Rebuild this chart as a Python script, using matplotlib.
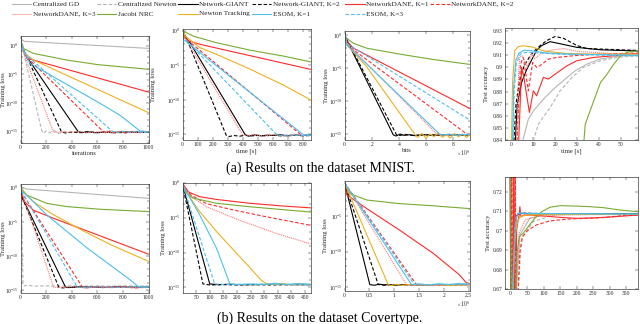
import numpy as np
import matplotlib
matplotlib.use('Agg')
import matplotlib.pyplot as plt
from matplotlib.ticker import FixedLocator, LogFormatterMathtext, NullFormatter, FuncFormatter
from matplotlib.lines import Line2D

plt.rcParams['font.family'] = ['Liberation Serif', 'DejaVu Serif']
plt.rcParams['mathtext.fontset'] = 'cm'

# ---------------- series (legend order) ----------------
SERIES = ['Centralized GD', 'Centralized Newton', 'Network-GIANT', 'Network-GIANT, K=2',
          'NetworkDANE, K=1', 'NetworkDANE, K=2', 'NetworkDANE, K=3', 'Jacobi NRC',
          'Newton Tracking', 'ESOM, K=1', 'ESOM, K=3']
COLORS = ['#b5b5b5', '#b5b5b5', '#000000', '#000000', '#ff2a2a', '#ff2a2a', '#ff7a7a',
          '#77ac30', '#edb120', '#4dbeee', '#4dbeee']
DASHED = (0, (3.2, 1.8))
DOTTED = (0, (1.0, 0.8))
STYLES = ['-', DASHED, '-', DASHED, '-', DASHED, DOTTED, '-', '-', '-', DASHED]

# ---------------- (a) MNIST: training loss vs iterations (log10 of loss) ----------------
MN_IT_X = [
    [0, 10, 30, 1000],
    [0, 10, 165, 180, 200, 230, 260, 300, 350, 400, 450, 500, 560, 620, 680, 740, 800, 860, 920, 1000],
    [0, 10, 47, 450, 480, 520, 580, 650, 720, 800, 900, 1000],
    [0, 10, 40, 320, 350, 400, 460, 520, 600, 700, 800, 900, 1000],
    [0, 15, 50, 1000],
    [0, 10, 40, 646, 670, 700, 740, 780, 830, 880, 930, 1000],
    [0, 16, 255, 280, 320, 380, 450, 520, 600, 700, 800, 900, 1000],
    [0, 5, 21, 99, 359, 600, 1000],
    [0, 10, 30, 100, 1000],
    [0, 10, 73, 620, 780, 900, 940, 960, 980, 1000],
    [0, 10, 30, 720, 750, 800, 850, 900, 950, 1000],
]
MN_IT_LOG = [
    [1.57, 1.0, 0.75, -0.47],
    [1.57, 0.3, -14.8, -15.3, -14.9, -15.2, -14.8, -15.3, -15.0, -15.2, -14.9, -15.3, -15.0, -15.2, -14.9, -15.3, -15.0, -15.2, -14.9, -15.1],
    [1.57, 0.0, -1.9, -15.0, -15.2, -15.05, -15.2, -15.1, -15.2, -15.05, -15.15, -15.1],
    [1.57, 0.0, -1.5, -15.05, -15.25, -15.1, -15.2, -15.05, -15.2, -15.1, -15.2, -15.1, -15.15],
    [1.57, -0.5, -2.2, -8.1],
    [1.57, 0.2, -1.8, -15.0, -15.3, -14.9, -15.25, -15.0, -15.3, -14.95, -15.2, -15.05],
    [1.57, -0.75, -15.0, -15.2, -15.05, -15.15, -15.0, -15.2, -15.1, -15.15, -15.05, -15.2, -15.1],
    [1.57, 0.5, -0.47, -1.34, -2.5, -3.3, -4.13],
    [1.57, 0.2, -1.2, -2.5, -11.7],
    [1.57, 0.0, -3.08, -10.05, -12.2, -14.3, -15.0, -14.9, -15.1, -15.0],
    [1.57, 0.0, -1.3, -15.0, -15.15, -14.95, -15.1, -15.0, -15.15, -15.05],
]

# ---------------- (a) MNIST: training loss vs time [s] ----------------
MN_TM_X = [
    [], [],
    [0, 15, 51, 418, 440, 480, 520, 560, 600, 650, 700, 750, 800, 850],
    [0, 30, 290, 310, 340, 380, 420, 460, 500, 550, 600, 650, 700, 750, 800, 850],
    [0, 15, 40, 118, 850],
    [0, 18, 784, 800, 820, 850],
    [0, 15, 400, 430, 480, 540, 600, 660, 720, 780, 850],
    [0, 7, 73, 229, 451, 673, 850],
    [0, 18, 118, 229, 451, 673, 850],
    [0, 7, 806, 830, 850],
    [0, 7, 629, 660, 700, 740, 780, 820, 850],
]
MN_TM_LOG = [
    [], [],
    [0.1, -0.8, -1.8, -15.1, -15.25, -15.05, -15.2, -15.1, -15.15, -15.05, -15.2, -15.1, -15.15, -15.1],
    [0.1, -1.3, -15.1, -15.3, -15.15, -15.25, -15.1, -15.2, -15.15, -15.2, -15.1, -15.2, -15.15, -15.1, -15.2, -15.15],
    [0.1, -1.0, -1.5, -2.0, -5.6],
    [0.1, -1.1, -15.0, -15.2, -15.05, -15.15],
    [0.1, -1.0, -15.1, -15.2, -15.0, -15.25, -15.05, -15.2, -15.1, -15.15, -15.1],
    [0.1, -0.1, -0.82, -1.78, -2.84, -3.7, -4.52],
    [0.1, -0.8, -2.5, -3.46, -5.6, -7.9, -10.0],
    [0.1, -1.3, -15.1, -15.0, -15.15],
    [0.1, -1.0, -15.1, -15.2, -15.05, -15.15, -15.1, -15.2, -15.1],
]

# ---------------- (a) MNIST: training loss vs bits (x 1e8) ----------------
MN_BT_X = [
    [], [],
    [0, 0.1, 3.59, 3.8, 4.1, 4.4, 4.8, 5.2, 5.8, 6.5, 7.5, 8.5, 9.25],
    [0, 0.1, 3.83, 4.1, 4.5, 5.0, 6, 7, 8, 9.25],
    [0, 0.2, 0.66, 9.25],
    [0, 0.17, 8.95, 9.1, 9.25],
    [0, 0.17, 6.8, 7.1, 7.5, 8, 8.5, 9.25],
    [0, 0.03, 0.66, 1.63, 4.07, 6.5, 9.25],
    [0, 0.17, 1.63, 5.17, 5.4, 5.7, 6.0, 6.3, 6.6, 6.9, 7.2, 7.5, 7.8, 8.1, 8.4, 8.7, 9.0, 9.25],
    [0, 0.17, 7.0, 7.3, 7.7, 8.2, 8.7, 9.25],
    [0, 0.17, 9.25],
]
MN_BT_LOG = [
    [], [],
    [0.25, -0.5, -15.1, -15.3, -15.0, -15.2, -15.1, -15.25, -15.1, -15.2, -15.1, -15.15, -15.1],
    [0.25, -0.4, -15.1, -15.2, -15.05, -15.2, -15.1, -15.15, -15.1, -15.15],
    [0.25, -1.0, -2.0, -11.15],
    [0.25, -1.5, -14.9, -15.1, -15.0],
    [0.25, -1.3, -15.0, -15.2, -15.05, -15.2, -15.1, -15.15],
    [0.25, -0.3, -1.26, -2.0, -2.9, -3.7, -4.46],
    [0.25, -1.5, -4.8, -15.0, -15.5, -14.9, -15.6, -15.0, -15.4, -14.8, -15.5, -15.1, -15.6, -14.9, -15.4, -15.0, -15.5, -15.1],
    [0.25, -1.5, -15.0, -15.15, -15.0, -15.2, -15.05, -15.1],
    [0.25, -1.3, -12.9],
]

# ---------------- (a) MNIST: test accuracy vs time [s] ----------------
MN_AC_X = [
    [3.8, 7.7, 10, 15.4, 19.2, 24.6, 29.2, 34.6, 40.8, 48.5, 58],
    [9.2, 12.3, 17.7, 22.3, 27.7, 33, 40.8, 48.5, 58],
    [1.5, 2.6, 4.6, 6.9, 9.2, 11.5, 13.8, 17.7, 22.3, 30, 40.8, 58],
    [0.8, 2, 3.5, 5.7, 8.5, 11.5, 16, 20, 23.8, 30, 34.6, 58],
    [3.1, 4.6, 5.4, 8.2, 10, 11.5, 14.6, 16.9, 20, 25.4, 30, 37.7, 47, 58],
    [2.3, 4.1, 5.4, 7.7, 9.7, 11.5, 13, 16.9, 20.8, 28.5, 40.8, 58],
    [2.3, 3.2, 3.8, 5, 7.2, 9.2, 10.8, 13.8, 19, 24, 31, 45, 58],
    [32.8, 33.8, 37.7, 40.8, 43.8, 46.9, 50, 53, 58],
    [-0.5, 0.5, 1.5, 3, 5, 9, 15, 25, 35, 58],
    [0, 1, 2, 3.5, 6, 10, 15, 25, 40, 58],
    [0.2, 1.2, 2.2, 4, 7, 12, 20, 30, 58],
]
MN_AC_Y = [
    [0.83, 0.8571, 0.864, 0.8751, 0.882, 0.8903, 0.8972, 0.9027, 0.9069, 0.9091, 0.9102],
    [0.835, 0.853, 0.8668, 0.8806, 0.8917, 0.9, 0.9055, 0.9082, 0.9096],
    [0.83, 0.869, 0.8875, 0.898, 0.906, 0.914, 0.918, 0.9212, 0.9195, 0.9165, 0.9145, 0.9135],
    [0.83, 0.869, 0.8875, 0.901, 0.9095, 0.9155, 0.922, 0.9255, 0.924, 0.918, 0.9155, 0.914],
    [0.83, 0.8999, 0.8944, 0.8627, 0.8806, 0.8765, 0.8917, 0.8903, 0.8944, 0.9013, 0.9055, 0.9082, 0.9096, 0.9115],
    [0.83, 0.9027, 0.9082, 0.8806, 0.9041, 0.9, 0.9013, 0.9068, 0.9082, 0.9096, 0.911, 0.9118],
    [0.83, 0.895, 0.909, 0.9095, 0.9, 0.911, 0.907, 0.912, 0.9145, 0.9155, 0.913, 0.9115, 0.911],
    [0.83, 0.853, 0.8723, 0.8875, 0.8944, 0.9027, 0.9096, 0.9124, 0.9138],
    [0.80, 0.889, 0.914, 0.917, 0.9178, 0.917, 0.9135, 0.9115, 0.911, 0.9108],
    [0.80, 0.885, 0.906, 0.912, 0.9142, 0.9135, 0.912, 0.911, 0.9105, 0.91],
    [0.80, 0.88, 0.903, 0.911, 0.9125, 0.912, 0.911, 0.9105, 0.9095],
]

# ---------------- (b) Covertype: training loss vs iterations ----------------
CT_IT_X = [
    [0, 10, 48, 1000],
    [0, 10, 20, 30, 60, 100, 200, 300, 400, 500, 600, 700, 800, 900, 1000],
    [0, 15, 352, 380, 450, 550, 650, 750, 850, 1000],
    [0, 15, 299, 330, 400, 500, 600, 700, 800, 900, 1000],
    [0, 10, 30, 100, 260, 1000],
    [0, 10, 484, 520, 600, 700, 800, 900, 1000],
    [0, 10, 259, 300, 400, 500, 600, 700, 800, 900, 1000],
    [0, 15, 48, 206, 365, 630, 1000],
    [0, 20, 100, 260, 497, 709, 1000],
    [0, 10, 74, 206, 524, 841, 920, 960, 1000],
    [0, 10, 444, 500, 600, 700, 800, 900, 1000],
]
CT_IT_LOG = [
    [0.3, 0.1, -0.2, -1.56],
    [0.3, -5.0, -14.2, -14.4, -14.3, -14.45, -14.4, -14.45, -14.4, -14.45, -14.4, -14.45, -14.4, -14.45, -14.4],
    [0.3, -1.5, -14.6, -14.65, -14.55, -14.6, -14.65, -14.55, -14.6, -14.6],
    [0.3, -1.5, -14.6, -14.7, -14.6, -14.65, -14.55, -14.65, -14.6, -14.65, -14.6],
    [0.3, -0.8, -2.0, -3.3, -4.5, -9.75],
    [0.3, -0.7, -14.6, -14.7, -14.55, -14.65, -14.6, -14.7, -14.6],
    [0.3, -0.7, -14.6, -14.65, -14.55, -14.65, -14.6, -14.6, -14.55, -14.65, -14.6],
    [0.3, -0.3, -1.07, -2.3, -2.78, -3.17, -3.5],
    [0.3, -0.6, -2.05, -4.0, -6.4, -8.4, -10.8],
    [0.3, -0.5, -1.56, -4.0, -8.9, -13.3, -14.5, -14.6, -14.55],
    [0.3, -0.6, -14.6, -14.65, -14.55, -14.6, -14.65, -14.55, -14.6],
]

# ---------------- (b) Covertype: training loss vs time [s] ----------------
CT_TM_X = [
    [], [],
    [0, 100, 130, 170, 220, 270, 330, 400, 470],
    [0, 75, 100, 150, 200, 260, 330, 400, 470],
    [0, 20, 63, 125, 248, 372, 470],
    [0, 32, 88, 186, 310, 470],
    [0, 14, 88, 211, 347, 470],
    [0, 10, 38, 125, 248, 470],
    [0, 13.6, 60, 125, 248, 290, 310, 340, 370, 400, 430, 470],
    [0, 7, 63, 125, 174, 200, 250, 300, 340, 380, 420, 470],
    [0, 118, 150, 200, 250, 300, 350, 400, 470],
]
CT_TM_LOG = [
    [], [],
    [-0.2, -14.5, -14.6, -14.55, -14.6, -14.6, -14.55, -14.6, -14.6],
    [-0.2, -14.5, -14.65, -14.6, -14.65, -14.6, -14.65, -14.6, -14.6],
    [-0.05, -1.3, -2.0, -2.4, -2.95, -3.35, -3.6],
    [-0.2, -1.8, -3.0, -3.9, -4.9, -6.1],
    [-0.2, -1.5, -3.45, -5.4, -7.3, -8.75],
    [-0.3, -1.2, -2.2, -2.95, -3.45, -4.2],
    [-0.2, -1.3, -4.0, -7.0, -12.2, -14.0, -14.5, -14.6, -14.45, -14.6, -14.5, -14.55],
    [-0.2, -0.8, -4.6, -9.4, -14.5, -14.6, -14.5, -14.6, -14.4, -14.6, -14.45, -14.55],
    [-0.2, -14.5, -14.6, -14.55, -14.6, -14.5, -14.6, -14.55, -14.6],
]

# ---------------- (b) Covertype: training loss vs bits (x 1e8) ----------------
CT_BT_X = [
    [], [],
    [0, 0.51, 0.6, 0.7, 0.8, 0.9, 1.0, 1.2, 1.5, 2.0, 2.53],
    [0, 0.68, 0.8, 1.0, 1.3, 1.7, 2.1, 2.53],
    [0, 0.05, 0.45, 1.11, 1.78, 2.31, 2.45, 2.53],
    [0, 1.45, 1.6, 1.8, 2.0, 2.2, 2.4, 2.53],
    [0, 1.25, 1.4, 1.7, 2.0, 2.3, 2.53],
    [0, 0.013, 0.11, 0.45, 1.11, 1.78, 2.53],
    [0, 0.88, 0.95, 1.05, 1.15, 1.3, 1.5, 1.8, 2.1, 2.53],
    [0, 1.35, 1.5, 1.7, 1.9, 2.1, 2.3, 2.53],
    [0, 1.41, 1.6, 1.9, 2.2, 2.53],
]
CT_BT_LOG = [
    [], [],
    [-0.4, -14.6, -14.7, -14.55, -14.65, -14.6, -14.7, -14.6, -14.65, -14.6, -14.6],
    [-0.4, -14.6, -14.7, -14.6, -14.65, -14.6, -14.65, -14.6],
    [-0.4, -2.1, -4.0, -7.0, -10.2, -13.2, -14.3, -14.5],
    [-0.4, -14.6, -14.7, -14.6, -14.7, -14.6, -14.65, -14.6],
    [-0.4, -14.6, -14.7, -14.6, -14.65, -14.6, -14.65],
    [-0.4, -0.74, -1.9, -2.8, -3.3, -3.6, -4.0],
    [-0.4, -14.6, -14.75, -14.55, -14.7, -14.6, -14.65, -14.6, -14.7, -14.6],
    [-0.4, -14.6, -14.5, -14.65, -14.5, -14.6, -14.45, -14.55],
    [-0.4, -14.6, -14.65, -14.55, -14.6, -14.55],
]

# ---------------- (b) Covertype: test accuracy vs time [s] ----------------
CT_AC_X = [
    [0, 18, 28, 58, 108, 160, 230, 300, 385],
    [0, 23, 33, 68, 129, 200, 300, 385],
    [-2, 2, 6, 16, 26, 50, 100, 200, 300, 385],
    [0, 5, 13, 20, 35, 100, 200, 385],
    [3, 6, 10, 13, 18, 22, 26, 28, 31, 40, 60, 100, 150, 200, 250, 300, 385],
    [2, 5, 8, 11, 14, 17, 23, 28, 36, 53, 78, 119, 179, 229, 280, 340, 385],
    [0, 16, 26, 43, 78, 139, 250, 385],
    [-1, 1, 16, 20, 26, 38, 53, 73, 94, 119, 149, 199, 239, 280, 330, 385],
    [0, 6, 11, 18, 28, 50, 100, 200, 300, 385],
    [0, 8, 13, 18, 23, 50, 100, 200, 300, 385],
    [0, 7, 12, 17, 22, 50, 100, 200, 300, 385],
]
CT_AC_Y = [
    [0.60, 0.67, 0.6977, 0.7063, 0.7084, 0.7088, 0.7087, 0.7086, 0.7085],
    [0.60, 0.67, 0.696, 0.7046, 0.708, 0.7086, 0.7086, 0.7085],
    [0.75, 0.60, 0.66, 0.7072, 0.7089, 0.7087, 0.7086, 0.7085, 0.7085, 0.7085],
    [0.60, 0.67, 0.703, 0.7085, 0.709, 0.7087, 0.7086, 0.7085],
    [0.75, 0.60, 0.75, 0.62, 0.700, 0.705, 0.708, 0.7123, 0.707, 0.708, 0.708, 0.7075, 0.7068, 0.7063, 0.7065, 0.707, 0.708],
    [0.75, 0.60, 0.75, 0.60, 0.75, 0.60, 0.67, 0.6892, 0.6969, 0.7003, 0.7029, 0.705, 0.706, 0.7063, 0.7067, 0.7077, 0.708],
    [0.60, 0.67, 0.6986, 0.7054, 0.7072, 0.708, 0.7082, 0.7083],
    [0.80, 0.60, 0.67, 0.6892, 0.6969, 0.6986, 0.702, 0.7063, 0.7097, 0.712, 0.7128, 0.7126, 0.7123, 0.7118, 0.7106, 0.7097],
    [0.60, 0.67, 0.6909, 0.7029, 0.7072, 0.708, 0.7082, 0.7083, 0.7083, 0.7083],
    [0.60, 0.67, 0.700, 0.707, 0.709, 0.7089, 0.7088, 0.7087, 0.7086, 0.7085],
    [0.60, 0.67, 0.701, 0.7075, 0.7088, 0.7088, 0.7087, 0.7086, 0.7085, 0.7085],
]

CAPTIONS = ['(a) Results on the dataset MNIST.', '(b) Results on the dataset Covertype.']

# ---------------- drawing ----------------
W, H = 640.0, 324.0
fig = plt.figure(figsize=(6.4, 3.24), dpi=100)
AX_COL = '#262626'
LW = 0.8
TICK_FS = 4.0
LAB_FS = 4.8


def add_ax(l, t, r, b):
    return fig.add_axes([l / W, 1 - b / H, (r - l) / W, (b - t) / H])


def style_ax(ax):
    for s in ax.spines.values():
        s.set_linewidth(0.45)
        s.set_color(AX_COL)
    ax.tick_params(which='both', direction='in', top=True, right=True, width=0.35,
                   colors=AX_COL, labelsize=TICK_FS, pad=1.5)
    ax.tick_params(which='major', length=2.0)
    ax.tick_params(which='minor', length=1.2)


def gfmt(v, pos):
    return '%g' % round(v, 6)


def draw_loss(ax, xs, logs, xlim, ylog, xticks, ylab_x, xlabel=None):
    for i in range(len(SERIES)):
        if not xs[i]:
            continue
        ax.plot(xs[i], np.power(10.0, logs[i]), color=COLORS[i], linestyle=STYLES[i], lw=LW)
    ax.set_yscale('log')
    ax.set_xlim(*xlim)
    ax.set_ylim(10.0 ** ylog[0], 10.0 ** ylog[1])
    ax.yaxis.set_major_locator(FixedLocator([1e-15, 1e-10, 1e-5, 1e0]))
    ax.yaxis.set_major_formatter(LogFormatterMathtext())
    ax.yaxis.set_minor_locator(FixedLocator(10.0 ** np.arange(-17, 3)))
    ax.yaxis.set_minor_formatter(NullFormatter())
    ax.xaxis.set_major_locator(FixedLocator(xticks))
    ax.xaxis.set_major_formatter(FuncFormatter(gfmt))
    style_ax(ax)
    ax.set_ylabel('Training loss', fontsize=LAB_FS, color=AX_COL)
    ax.yaxis.set_label_coords(ylab_x, 0.5)
    if xlabel:
        ax.set_xlabel(xlabel, fontsize=LAB_FS, labelpad=1.0, color=AX_COL)


def draw_acc(ax, xs, ys, xlim, ylim, xticks, yticks, ylab_x, xlabel=None):
    for i in range(len(SERIES)):
        if not xs[i]:
            continue
        ax.plot(xs[i], ys[i], color=COLORS[i], linestyle=STYLES[i], lw=LW)
    ax.set_xlim(*xlim)
    ax.set_ylim(*ylim)
    ax.xaxis.set_major_locator(FixedLocator(xticks))
    ax.yaxis.set_major_locator(FixedLocator(yticks))
    ax.xaxis.set_major_formatter(FuncFormatter(gfmt))
    ax.yaxis.set_major_formatter(FuncFormatter(gfmt))
    style_ax(ax)
    ax.set_ylabel('Test accuracy', fontsize=LAB_FS, color=AX_COL)
    ax.yaxis.set_label_coords(ylab_x, 0.5)
    if xlabel:
        ax.set_xlabel(xlabel, fontsize=LAB_FS, labelpad=1.0, color=AX_COL)


# row (a)
ax1 = add_ax(20.5, 36, 148.5, 143)
draw_loss(ax1, MN_IT_X, MN_IT_LOG, (0, 1000), (-17.0, 1.69), [0, 200, 400, 600, 800, 1000], -0.112, 'iterations')
ax2 = add_ax(182.5, 29.5, 310.5, 140)
draw_loss(ax2, MN_TM_X, MN_TM_LOG, (0, 850), (-15.8, 0.15), [0, 100, 200, 300, 400, 500, 600, 700, 800], -0.205, 'time [s]')
ax3 = add_ax(344.5, 31, 470, 140)
draw_loss(ax3, MN_BT_X, MN_BT_LOG, (0, 9.25), (-15.9, 0.6), [0, 2, 4, 6, 8], -0.127, 'bits')
ax4 = add_ax(505, 28, 638, 140)
draw_acc(ax4, MN_AC_X, MN_AC_Y, (-3, 58), (0.84, 0.9325), [0, 10, 20, 30, 40, 50],
         [0.84, 0.85, 0.86, 0.87, 0.88, 0.89, 0.90, 0.91, 0.92, 0.93], -0.117, 'time [s]')

# row (b)
ax5 = add_ax(20.5, 184.3, 148.5, 293)
draw_loss(ax5, CT_IT_X, CT_IT_LOG, (0, 1000), (-15.45, 0.5), [0, 200, 400, 600, 800, 1000], -0.112)
ax6 = add_ax(182.5, 182.7, 310.5, 293)
draw_loss(ax6, CT_TM_X, CT_TM_LOG, (0, 470), (-15.8, 0.0), [50, 100, 150, 200, 250, 300, 350, 400, 450], -0.125)
ax7 = add_ax(344.5, 180.7, 470, 291)
draw_loss(ax7, CT_BT_X, CT_BT_LOG, (0, 2.53), (-15.5, -0.1), [0, 0.5, 1, 1.5, 2, 2.5], -0.135)
ax8 = add_ax(505, 176.7, 638, 289)
draw_acc(ax8, CT_AC_X, CT_AC_Y, (-17, 385), (0.67, 0.7277), [0, 50, 100, 150, 200, 250, 300, 350],
         [0.67, 0.68, 0.69, 0.70, 0.71, 0.72], -0.109)

# x10^8 multipliers for bit axes
for ax in (ax3, ax7):
    ax.text(1.0, -0.075, r'$\times 10^{8}$', transform=ax.transAxes, ha='right', va='top',
            fontsize=TICK_FS, color=AX_COL)

# captions
fig.text(320 / W, 1 - 168 / H, CAPTIONS[0], ha='center', va='center', fontsize=10)
fig.text(320 / W, 1 - 318 / H, CAPTIONS[1], ha='center', va='center', fontsize=10)

# legend (two rows, placed as in the reference)
COL_X = [11.7, 96.7, 178.0, 251.7, 345.0, 430.0]
ROW_Y = [4.0, 14.0]
for i, name in enumerate(SERIES):
    row = 0 if i < 6 else 1
    col = i if i < 6 else i - 6
    x0 = COL_X[col]
    y0 = ROW_Y[row]
    fig.add_artist(Line2D([x0 / W, (x0 + 19.5) / W], [1 - y0 / H, 1 - y0 / H], color=COLORS[i],
                          linestyle=STYLES[i], lw=LW, transform=fig.transFigure))
    fig.text((x0 + 21.0) / W, 1 - y0 / H, name, ha='left', va='center', fontsize=5.2, color='#222222')

fig.savefig('out.png', dpi=100)
